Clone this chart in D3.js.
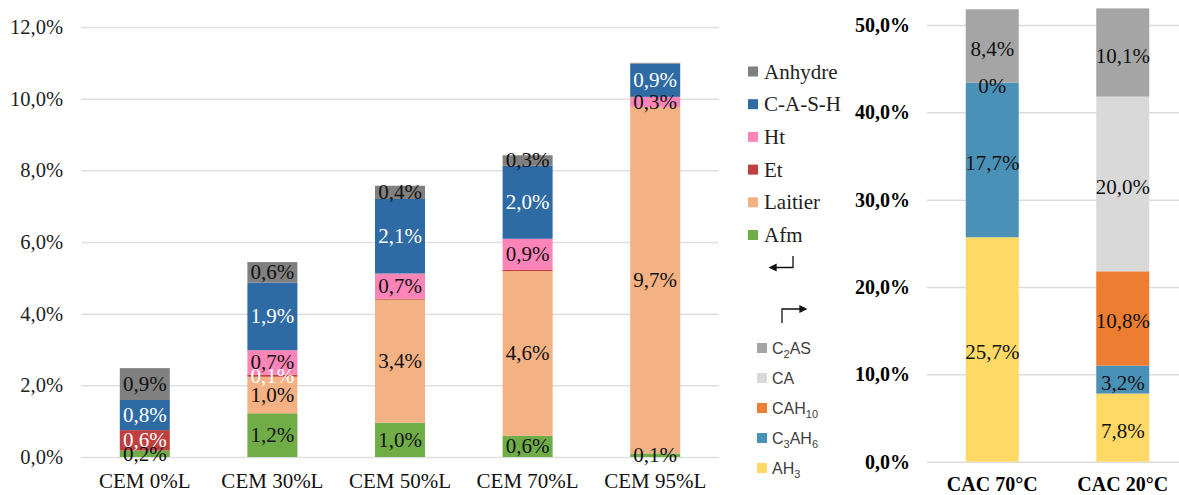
<!DOCTYPE html>
<html><head><meta charset="utf-8">
<script src="https://cdn.jsdelivr.net/npm/d3@7"></script>
<style>body{margin:0;background:#fff;} svg{display:block;}</style>
</head><body>
<script>
// ---------- Left chart data ----------
const catsL = ["CEM 0%L","CEM 30%L","CEM 50%L","CEM 70%L","CEM 95%L"];
const seriesL = ["Afm","Laitier","Et","Ht","C-A-S-H","Anhydre"];
const afm     = [0.18, 1.22, 0.96, 0.59, 0.10];
const laitier = [0.00, 1.02, 3.43, 4.60, 9.67];
const et      = [0.57, 0.06, 0.03, 0.03, 0.00];
const ht      = [0.00, 0.68, 0.70, 0.87, 0.28];
const cash    = [0.84, 1.89, 2.08, 2.04, 0.93];
const anhydre = [0.89, 0.57, 0.37, 0.29, 0.02];
const ticksL  = [0, 2, 4, 6, 8, 10, 12];
const colorsL = {"Afm":"#70AD47","Laitier":"#F4B183","Et":"#C0403F","Ht":"#FF85B9","C-A-S-H":"#2E6AA4","Anhydre":"#808080"};
const labelColL = {"Afm":"#111","Laitier":"#111","Et":"#fff","Ht":"#111","C-A-S-H":"#fff","Anhydre":"#111"};
const legendOrderL = ["Anhydre","C-A-S-H","Ht","Et","Laitier","Afm"];

// ---------- Right chart data ----------
const catsR = ["CAC 70°C","CAC 20°C"];
const seriesR = ["AH3","C3AH6","CAH10","CA","C2AS"];
const ah3   = [25.7, 7.8];
const c3ah6 = [17.7, 3.2];
const cah10 = [0, 10.8];
const ca    = [null, 20.0];
const c2as  = [8.4, 10.1];
const ticksR = [0, 10, 20, 30, 40, 50];
const colorsR = {"AH3":"#FFD966","C3AH6":"#4A91B8","CAH10":"#ED7D31","CA":"#D9D9D9","C2AS":"#A5A5A5"};
// legend labels: pieces [text, isSubscript]
const legendKeysR = ["C2AS","CA","CAH10","C3AH6","AH3"];
const legendTextR = [
  [["C",0],["2",1],["AS",0]],
  [["CA",0]],
  [["CAH",0],["10",1]],
  [["C",0],["3",1],["AH",0],["6",1]],
  [["AH",0],["3",1]]
];

const W = 1179, H = 495;
const serif = "'Liberation Serif','Times New Roman',serif";
const svg = d3.select("body").append("svg").attr("width", W).attr("height", H);

const fmt = v => v.toFixed(1).replace(".", ",") + "%";

// ================= LEFT CHART =================
const rowsL = catsL.map((c, i) => ({cat: c, "Afm": afm[i], "Laitier": laitier[i], "Et": et[i], "Ht": ht[i], "C-A-S-H": cash[i], "Anhydre": anhydre[i]}));
const xL = d3.scaleBand().domain(catsL).range([81, 719]).paddingInner(0.608).paddingOuter(0.304);
const yL = d3.scaleLinear().domain([0, 12]).range([457, 27]);

const gAxL = svg.append("g").attr("transform", "translate(81,0)")
  .call(d3.axisLeft(yL).tickValues(ticksL).tickSize(-638).tickPadding(18).tickFormat(fmt));
gAxL.select(".domain").remove();
gAxL.selectAll(".tick line").attr("stroke", "#e0e0e0").attr("stroke-width", 1.5);
gAxL.selectAll(".tick text").attr("font-family", serif).attr("font-size", 20.5).attr("fill", "#222");

const stackL = d3.stack().keys(seriesL)(rowsL);
const gL = svg.append("g");
stackL.forEach(s => {
  gL.selectAll(null).data(s).enter().append("rect")
    .attr("x", d => xL(d.data.cat)).attr("width", xL.bandwidth())
    .attr("y", d => yL(d[1])).attr("height", d => Math.max(0, yL(d[0]) - yL(d[1])))
    .attr("fill", colorsL[s.key]);
});
stackL.forEach(s => {
  gL.selectAll(null).data(s.filter(d => d.data[s.key] >= 0.05)).enter().append("text")
    .attr("x", d => xL(d.data.cat) + xL.bandwidth() / 2)
    .attr("y", d => (yL(d[0]) + yL(d[1])) / 2 + 7)
    .attr("text-anchor", "middle").attr("font-family", serif).attr("font-size", 21)
    .attr("fill", labelColL[s.key]).text(d => fmt(d.data[s.key]));
});
const gxL = svg.append("g").attr("transform", "translate(0,457)")
  .call(d3.axisBottom(xL).tickSize(0).tickPadding(0));
gxL.select(".domain").remove();
gxL.selectAll(".tick text").attr("font-family", serif).attr("font-size", 21).attr("fill", "#111")
  .attr("dy", null).attr("y", 31);

// Left legend
const legL = svg.append("g");
legendOrderL.forEach((k, i) => {
  const cy = 71.5 + i * 32.7;
  legL.append("rect").attr("x", 748).attr("y", cy - 5).attr("width", 10).attr("height", 10).attr("fill", colorsL[k]);
  legL.append("text").attr("x", 764).attr("y", cy + 7).attr("font-family", serif).attr("font-size", 21)
    .attr("fill", "#222").text(k);
});
// Arrows
const arrow = svg.append("g").attr("stroke", "#111").attr("stroke-width", 1.3).attr("fill", "none");
arrow.append("path").attr("d", "M793,256 V267.5 H772");
arrow.append("path").attr("d", "M776,264.5 L770,267.5 L776,270.5 Z").attr("fill", "#111");
arrow.append("path").attr("d", "M782,323 V309 H802");
arrow.append("path").attr("d", "M800,306 L806,309 L800,312 Z").attr("fill", "#111");

// ================= RIGHT CHART =================
const rowsR = catsR.map((c, i) => ({cat: c, "AH3": ah3[i], "C3AH6": c3ah6[i], "CAH10": cah10[i], "CA": ca[i], "C2AS": c2as[i]}));
const xR = d3.scaleBand().domain(catsR).range([927, 1188]).paddingInner(0.594).paddingOuter(0.297);
const yR = d3.scaleLinear().domain([0, 50]).range([461.7, 25]);

const gAxR = svg.append("g").attr("transform", "translate(927,0)")
  .call(d3.axisLeft(yR).tickValues(ticksR).tickSize(-261).tickPadding(17).tickFormat(fmt));
gAxR.select(".domain").remove();
gAxR.selectAll(".tick line").attr("stroke", "#dcdcdc").attr("stroke-width", 1.5);
gAxR.selectAll(".tick text").attr("font-family", serif).attr("font-size", 20).attr("font-weight", "bold").attr("fill", "#000");

const stackR = d3.stack().keys(seriesR).value((d, k) => d[k] == null ? 0 : d[k])(rowsR);
const gR = svg.append("g");
stackR.forEach(s => {
  gR.selectAll(null).data(s).enter().append("rect")
    .attr("x", d => xR(d.data.cat)).attr("width", xR.bandwidth())
    .attr("y", d => yR(d[1])).attr("height", d => Math.max(0, yR(d[0]) - yR(d[1])))
    .attr("fill", colorsR[s.key]);
});
stackR.forEach(s => {
  gR.selectAll(null).data(s.filter(d => d.data[s.key] != null)).enter().append("text")
    .attr("x", d => xR(d.data.cat) + xR.bandwidth() / 2)
    .attr("y", d => (yR(d[0]) + yR(d[1])) / 2 + 10)
    .attr("text-anchor", "middle").attr("font-family", serif).attr("font-size", 21)
    .attr("fill", "#111").text(d => d.data[s.key] === 0 ? "0%" : fmt(d.data[s.key]));
});
const gxR = svg.append("g").attr("transform", "translate(0,461.7)")
  .call(d3.axisBottom(xR).tickSize(0).tickPadding(0));
gxR.select(".domain").remove();
gxR.selectAll(".tick text").attr("font-family", serif).attr("font-size", 20).attr("font-weight", "bold")
  .attr("fill", "#000").attr("dy", null).attr("y", 29.5);

// Right legend
const sans = "'Liberation Sans',Arial,sans-serif";
const legR = svg.append("g");
legendKeysR.forEach((k, i) => {
  const cy = 348 + i * 30;
  legR.append("rect").attr("x", 757).attr("y", cy - 5).attr("width", 10).attr("height", 10).attr("fill", colorsR[k]);
  const t = legR.append("text").attr("x", 772).attr("y", cy + 6).attr("font-family", sans).attr("font-size", 16).attr("fill", "#404040");
  let sub = false;
  legendTextR[i].forEach(([txt, isSub]) => {
    const dy = isSub && !sub ? 4 : (!isSub && sub ? -4 : 0);
    t.append("tspan").attr("font-size", isSub ? 11 : 16).attr("dy", dy).text(txt);
    sub = !!isSub;
  });
});
</script>
</body></html>
